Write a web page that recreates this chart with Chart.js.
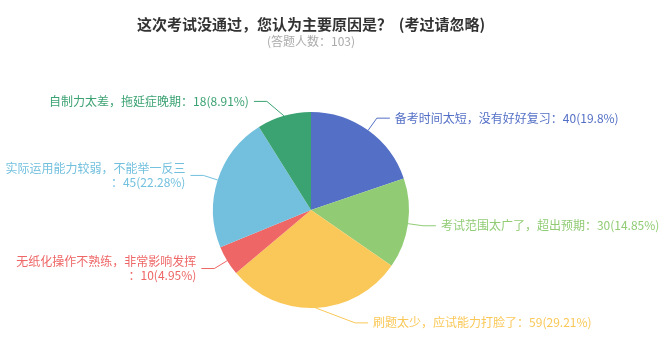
<!DOCTYPE html>
<html lang="zh-CN">
<head>
  <meta charset="UTF-8">
  <title>考试未通过原因</title>
  <script src="https://cdn.jsdelivr.net/npm/chart.js"></script>
  <style>
    html, body { margin: 0; padding: 0; background: #fff; }
    .chart-box { position: relative; width: 671px; height: 352px; }
  </style>
</head>
<body>
  <div class="chart-box">
    <canvas id="pieChart"></canvas>
  </div>

  <script>
    // 数据
    const categories = [
      '备考时间太短，没有好好复习',
      '考试范围太广了，超出预期',
      '刷题太少，应试能力打脸了',
      '无纸化操作不熟练，非常影响发挥',
      '实际运用能力较弱，不能举一反三',
      '自制力太差，拖延症晚期'
    ];
    const counts = [40, 30, 59, 10, 45, 18];
    const colors = ['#5470c6', '#91cc75', '#fac858', '#ee6666', '#73c0de', '#3ba272'];
    const titleText = '这次考试没通过，您认为主要原因是？  (考过请忽略)';
    const subtitleText = '(答题人数：103)';

    const fontFamily = '"Noto Sans CJK SC", "Noto Sans", sans-serif';

    // 标题（画在饼图正上方，不受 chartArea 宽度限制）
    const titles = {
      id: 'titles',
      afterDraw(chart) {
        const ctx = chart.ctx;
        const a = chart.chartArea;
        const mx = (a.left + a.right) / 2;
        ctx.save();
        ctx.textAlign = 'center';
        ctx.textBaseline = 'middle';
        ctx.fillStyle = '#333';
        ctx.font = 'bold 15px ' + fontFamily;
        ctx.fillText(titleText, mx, 24);
        ctx.fillStyle = '#aaa';
        ctx.font = '12px ' + fontFamily;
        ctx.fillText(subtitleText, mx, 41);
        ctx.restore();
      }
    };

    // 外部标签 + 引导线
    const outsideLabels = {
      id: 'outsideLabels',
      afterDatasetsDraw(chart) {
        const ctx = chart.ctx;
        const meta = chart.getDatasetMeta(0);
        const total = counts.reduce((a, b) => a + b, 0);
        ctx.save();
        ctx.font = '12px ' + fontFamily;
        ctx.lineWidth = 1;
        meta.data.forEach((arc, i) => {
          const p = arc.getProps(['x', 'y', 'startAngle', 'endAngle', 'outerRadius'], true);
          const mid = (p.startAngle + p.endAngle) / 2;
          const cx = Math.cos(mid), cy = Math.sin(mid);
          const dir = cx >= 0 ? 1 : -1;
          const ex = p.x + cx * p.outerRadius;
          const ey = p.y + cy * p.outerRadius;
          let kx = p.x + cx * (p.outerRadius + 15);
          const ky = p.y + cy * (p.outerRadius + 15);
          // 接近上下方向时把拐点往外推，避免引导线太陡
          if (Math.abs(cy) > 0.9) {
            kx = p.x + dir * Math.max(Math.abs(kx - p.x), p.outerRadius * 0.45);
          }
          const lx = kx + dir * 13;
          const color = colors[i];

          ctx.strokeStyle = color;
          ctx.beginPath();
          ctx.moveTo(ex, ey);
          ctx.lineTo(kx, ky);
          ctx.lineTo(lx, ky);
          ctx.stroke();

          const pct = +(counts[i] / total * 100).toFixed(2);
          const tail = '：' + counts[i] + '(' + pct + '%)';
          const full = categories[i] + tail;
          const tx = lx + dir * 5;
          const avail = dir > 0 ? chart.width - tx - 5 : tx - 5;
          const lines = ctx.measureText(full).width > avail ? [categories[i], tail] : [full];

          ctx.fillStyle = color;
          ctx.textAlign = dir > 0 ? 'left' : 'right';
          ctx.textBaseline = 'middle';
          const lh = 14;
          lines.forEach((t, j) => {
            ctx.fillText(t, tx, ky - (lines.length - 1) * lh / 2 + j * lh);
          });
        });
        ctx.restore();
      }
    };

    new Chart(document.getElementById('pieChart'), {
      type: 'pie',
      data: {
        labels: categories,
        datasets: [{
          data: counts,
          backgroundColor: colors,
          borderWidth: 0
        }]
      },
      options: {
        responsive: true,
        maintainAspectRatio: false,
        animation: false,
        layout: {
          padding: { top: 112, left: 213, right: 262, bottom: 44 }
        },
        plugins: {
          legend: { display: false },
          tooltip: { enabled: false },
          title: { display: false }
        }
      },
      plugins: [outsideLabels, titles]
    });
  </script>
</body>
</html>
